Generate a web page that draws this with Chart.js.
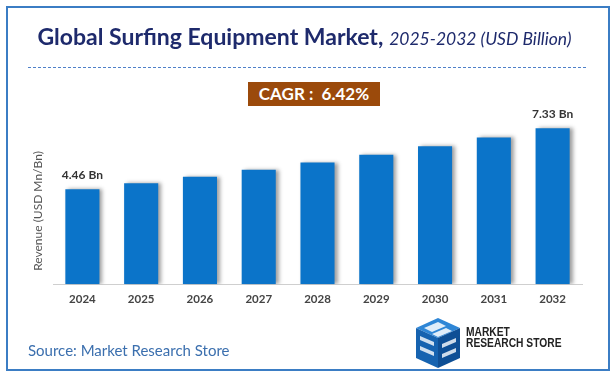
<!DOCTYPE html>
<html>
<head>
<meta charset="utf-8">
<script src="https://cdn.jsdelivr.net/npm/chart.js@4"></script>
<style>
  html, body { margin: 0; padding: 0; background: #fff; }
  #wrap { position: relative; width: 615px; height: 379px; overflow: hidden; font-family: Lato, "Open Sans", sans-serif; }
  #frame { position: absolute; left: 6px; top: 6px; width: 600px; height: 361px; border: 2px solid #3b7dc4; }
  #title { position: absolute; left: -3px; width: 615px; top: 22px; text-align: center; color: #1e2a6c; font-size: 23px; white-space: nowrap; }
  #title b { font-weight: 700; }
  #title i { font-weight: 400; font-style: italic; font-size: 17.5px; }
  #dash { position: absolute; left: 28px; top: 67px; width: 558px; border-top: 1.5px dashed #4f81c9; }
  #cagr { position: absolute; left: 248px; top: 82px; width: 132px; height: 24px; background: #9b4a0b; color: #fff; font-weight: 700; font-size: 17px; line-height: 24px; text-align: center; }
  #source { position: absolute; left: 28px; top: 341px; color: #3b6fae; font-size: 15px; }
  #logoText { position: absolute; left: 466px; top: 327px; font-family: "Liberation Sans", sans-serif; font-weight: 700; font-size: 12.5px; line-height: 11px; color: #222; transform: scaleX(0.82); transform-origin: left top; white-space: nowrap; }
  #logo { position: absolute; left: 408px; top: 316px; }
  canvas { position: absolute; left: 0; top: 0; }
</style>
</head>
<body>
<div id="wrap">
  <canvas id="c" width="615" height="379"></canvas>
  <div id="frame"></div>
  <div id="title"><b>Global Surfing Equipment Market,</b> <i>2025-2032 (USD Billion)</i></div>
  <div id="dash"></div>
  <div id="cagr">CAGR :&nbsp; 6.42%</div>
  <div id="source">Source: Market Research Store</div>
  <svg id="logo" width="56" height="54" viewBox="0 0 56 54">
    <polygon points="8,12 30,2 52,12 30,22" fill="#2e86d6"/>
    <polygon points="8,12 30,22 30,52 8,42" fill="#1663b0"/>
    <polygon points="30,22 52,12 52,42 30,52" fill="#0e4f95"/>
    <polygon points="16,12 30,6 38,10 24,16" fill="#ffffff" opacity="0.85"/>
    <polygon points="24,18 38,12 44,15 30,21" fill="#ffffff" opacity="0.85"/>
    <polygon points="12,20 26,26 26,30 12,24" fill="#ffffff" opacity="0.8"/>
    <polygon points="34,28 48,22 48,26 34,32" fill="#ffffff" opacity="0.8"/>
    <polygon points="12,30 26,36 26,40 12,34" fill="#ffffff" opacity="0.8"/>
    <polygon points="34,38 48,32 48,36 34,42" fill="#ffffff" opacity="0.8"/>
  </svg>
  <div id="logoText">MARKET<br>RESEARCH STORE</div>
</div>
<script>
const years = ["2024", "2025", "2026", "2027", "2028", "2029", "2030", "2031", "2032"];
const revenue = [4.46, 4.75, 5.05, 5.38, 5.72, 6.09, 6.48, 6.90, 7.33];
const valueLabels = ["4.46 Bn", "", "", "", "", "", "", "", "7.33 Bn"];
const yAxisTitle = "Revenue (USD Mn/Bn)";

const shadowPlugin = {
  id: 'barShadow',
  beforeDatasetsDraw(chart) {
    const ctx = chart.ctx;
    ctx.save();
    ctx.shadowColor = 'rgba(0,0,0,0.38)';
    ctx.shadowBlur = 4;
    ctx.shadowOffsetX = 3;
    ctx.shadowOffsetY = 0;
  },
  afterDatasetsDraw(chart) {
    chart.ctx.restore();
  }
};

const labelPlugin = {
  id: 'extras',
  afterDraw(chart) {
    const ctx = chart.ctx;
    const meta = chart.getDatasetMeta(0);
    ctx.save();
    ctx.font = 'bold 12px Lato, "Open Sans", sans-serif';
    ctx.fillStyle = '#333333';
    ctx.textAlign = 'center';
    ctx.textBaseline = 'middle';
    meta.data.forEach((bar, i) => {
      if (valueLabels[i]) ctx.fillText(valueLabels[i], bar.x, bar.y - 14);
    });
    ctx.restore();
    ctx.save();
    ctx.translate(38, 211);
    ctx.rotate(-Math.PI / 2);
    ctx.font = '12px Lato, "Open Sans", sans-serif';
    ctx.fillStyle = '#555555';
    ctx.textAlign = 'center';
    ctx.textBaseline = 'middle';
    ctx.fillText(yAxisTitle, 0, 0);
    ctx.restore();
  }
};

new Chart(document.getElementById('c'), {
  type: 'bar',
  data: {
    labels: years,
    datasets: [{
      data: revenue,
      backgroundColor: '#0b74c9',
      barPercentage: 0.58,
      categoryPercentage: 1.0
    }]
  },
  options: {
    responsive: false,
    animation: false,
    layout: { padding: { left: 53, right: 33, top: 114, bottom: 65 } },
    plugins: { legend: { display: false }, tooltip: { enabled: false } },
    scales: {
      x: {
        grid: { display: false, drawTicks: false },
        border: { display: true, color: '#cfcfcf', width: 1 },
        ticks: { padding: 8, color: '#444444', font: { family: 'Lato, "Open Sans", sans-serif', size: 11.5, weight: 'bold' } }
      },
      y: {
        display: false,
        min: 0,
        max: 8
      }
    }
  },
  plugins: [shadowPlugin, labelPlugin]
});
</script>
</body>
</html>
